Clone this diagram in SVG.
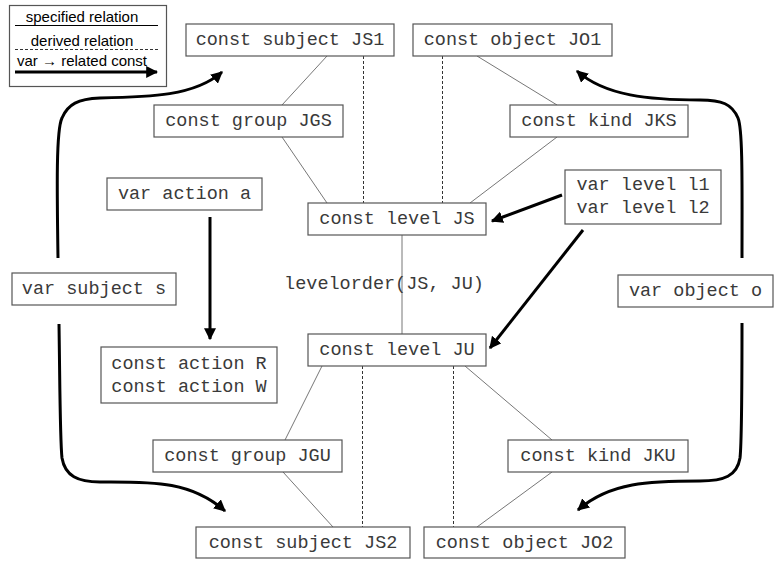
<svg xmlns="http://www.w3.org/2000/svg" width="775" height="561" viewBox="0 0 775 561">
<defs>
<marker id="ah" viewBox="0 0 10 10" refX="9" refY="5" markerWidth="4" markerHeight="4" orient="auto" markerUnits="strokeWidth">
<path d="M0,0 L10,5 L0,10 z" fill="#000"/>
</marker>
<style>
.box{fill:#fff;stroke:#555;stroke-width:1.2}
.t{font-family:"Liberation Mono","Courier New",monospace;font-size:18.5px;fill:#3a3a3a;text-anchor:middle}
.lt{font-family:"Liberation Sans",Arial,sans-serif;font-size:15px;fill:#000;text-anchor:middle}
.sp{stroke:#777;stroke-width:1;fill:none}
.dr{stroke:#333;stroke-width:1;stroke-dasharray:3,2;fill:none}
.va{stroke:#000;stroke-width:3;fill:none;marker-end:url(#ah)}
</style>
</defs>
<rect width="775" height="561" fill="#fff"/>
<g id="legend">
<rect class="box" x="9.5" y="5.5" width="157" height="81" stroke="#000"/>
<text class="lt" x="82" y="22">specified relation</text>
<line x1="15" y1="25.5" x2="158" y2="25.5" stroke="#000" stroke-width="1"/>
<text class="lt" x="82" y="46">derived relation</text>
<line x1="15" y1="49.5" x2="158" y2="49.5" class="dr" stroke="#666"/>
<text class="lt" x="82" y="66">var → related const</text>
<line x1="15" y1="72" x2="157" y2="72" class="va"/>
</g>
<g id="connectors">
<line class="sp" x1="327" y1="56" x2="282" y2="105"/>
<line class="sp" x1="282" y1="137" x2="327" y2="203"/>
<line class="sp" x1="477" y1="56" x2="557" y2="105"/>
<line class="sp" x1="557" y1="137" x2="470" y2="203"/>
<line class="dr" x1="363.5" y1="56" x2="363.5" y2="203"/>
<line class="dr" x1="442.5" y1="56" x2="442.5" y2="203"/>
<line class="sp" x1="402" y1="235" x2="402" y2="334"/>
<line class="sp" x1="322" y1="366" x2="285" y2="440"/>
<line class="sp" x1="283" y1="472" x2="333" y2="527"/>
<line class="sp" x1="465" y1="366" x2="552" y2="440"/>
<line class="sp" x1="552" y1="472" x2="477" y2="527"/>
<line class="dr" x1="362.5" y1="366" x2="362.5" y2="527"/>
<line class="dr" x1="453.5" y1="366" x2="453.5" y2="527"/>
<path class="va" d="M210,217 L210,339"/>
<path class="va" d="M562,195 L492,221"/>
<path class="va" d="M583,230 L490,348"/>
<path class="va" d="M58,258 C57,190 56,130 62,118 C68,104 78,99 100,98 C150,97 195,96 222,72"/>
<path class="va" d="M59,324 C60,390 60,440 62,458 C65,476 78,482 100,482 C150,482 190,480 225,511"/>
<path class="va" d="M742,258 C742,190 743,130 738,118 C732,104 722,100 700,100 C650,100 605,96 577,71"/>
<path class="va" d="M742,323 C742,390 742,440 740,458 C737,476 724,481 700,481 C650,481 610,482 578,510"/>
</g>
<g id="JS1"><rect class="box" x="186" y="24" width="208" height="32"/><text class="t" x="290" y="45">const subject JS1</text></g>
<g id="JO1"><rect class="box" x="413" y="24" width="199" height="32"/><text class="t" x="512.5" y="45">const object JO1</text></g>
<g id="JGS"><rect class="box" x="154" y="105" width="189" height="32"/><text class="t" x="248.5" y="126">const group JGS</text></g>
<g id="JKS"><rect class="box" x="510" y="105" width="178" height="32"/><text class="t" x="599" y="126">const kind JKS</text></g>
<g id="action_a"><rect class="box" x="107" y="178" width="155" height="32"/><text class="t" x="184.5" y="199">var action a</text></g>
<g id="JS"><rect class="box" x="308" y="203" width="178" height="32"/><text class="t" x="397" y="224">const level JS</text></g>
<g id="levels"><rect class="box" x="565" y="170" width="156" height="54"/><text class="t" x="643" y="190">var level l1</text><text class="t" x="643" y="213">var level l2</text></g>
<g id="subject_s"><rect class="box" x="12" y="273" width="164" height="32"/><text class="t" x="94" y="294">var subject s</text></g>
<g id="object_o"><rect class="box" x="618" y="275" width="155" height="32"/><text class="t" x="695.5" y="296">var object o</text></g>
<text class="t" x="384" y="289">levelorder(JS, JU)</text>
<g id="JU"><rect class="box" x="308" y="334" width="178" height="32"/><text class="t" x="397" y="355">const level JU</text></g>
<g id="actions"><rect class="box" x="101" y="347" width="176" height="56"/><text class="t" x="189" y="369">const action R</text><text class="t" x="189" y="392">const action W</text></g>
<g id="JGU"><rect class="box" x="153" y="440" width="189" height="32"/><text class="t" x="247.5" y="461">const group JGU</text></g>
<g id="JKU"><rect class="box" x="508" y="440" width="180" height="32"/><text class="t" x="598" y="461">const kind JKU</text></g>
<g id="JS2"><rect class="box" x="196" y="527" width="214" height="31"/><text class="t" x="303" y="548">const subject JS2</text></g>
<g id="JO2"><rect class="box" x="424" y="527" width="201" height="31"/><text class="t" x="524.5" y="548">const object JO2</text></g>
</svg>
